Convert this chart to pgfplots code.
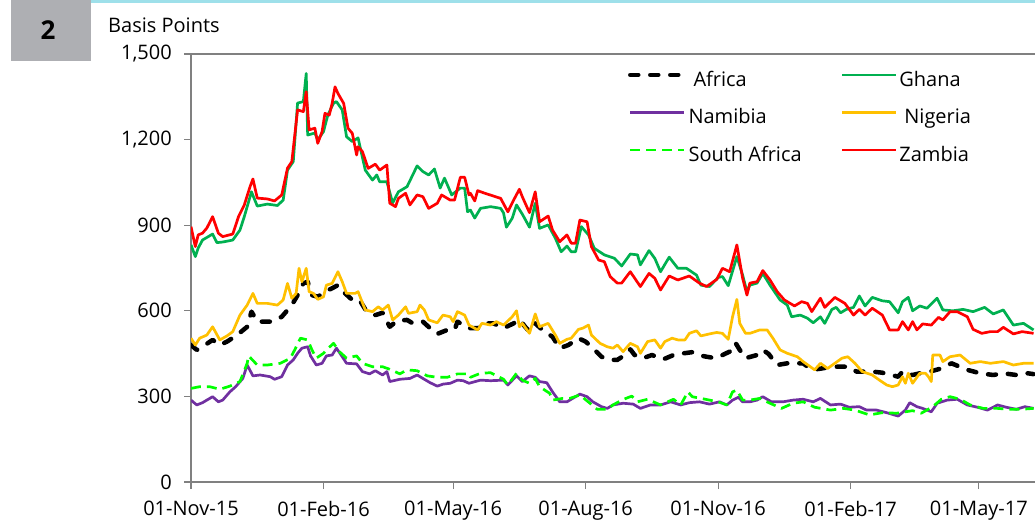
\documentclass[border=0pt]{standalone}
\usepackage{fontspec}
\setmainfont{Open Sans}
\usepackage{pgfplots}
\pgfplotsset{compat=1.18}
\definecolor{ghana}{RGB}{0,176,80}
\definecolor{namibia}{RGB}{112,48,160}
\definecolor{nigeria}{RGB}{255,192,0}
\definecolor{safrica}{RGB}{0,255,0}
\definecolor{zambia}{RGB}{255,0,0}
\definecolor{barcyan}{RGB}{158,224,234}
\definecolor{boxgrey}{RGB}{174,175,179}
\definecolor{axisgrey}{RGB}{128,128,128}
\begin{document}
\begin{tikzpicture}
  % bandeau et numero du graphique
  \fill[barcyan] (90pt,519pt) rectangle (1035pt,522pt);
  \fill[boxgrey] (11pt,461pt) rectangle (91pt,522pt);
  \node[font=\fontsize{26}{30}\selectfont\bfseries] at (48pt,492pt) {2};
  \node[anchor=base west, inner sep=0pt, font=\fontsize{20}{24}\selectfont] at (108pt,489pt) {Basis Points};
  \begin{axis}[
      at={(191pt,40pt)}, anchor=origin,
      scale only axis, width=844pt, height=428pt,
      xmin=0, xmax=586, ymin=0, ymax=1500,
      axis lines=left,
      axis line style={axisgrey, line width=1.5pt, -},
      tick style={axisgrey, line width=1.2pt},
      tick align=outside, major tick length=7pt,
      xtick={0,92,182,274,366,458,547},
      xticklabels={01-Nov-15,01-Feb-16,01-May-16,01-Aug-16,01-Nov-16,01-Feb-17,01-May-17},
      ytick={0,300,600,900,1200,1500},
      yticklabels={0,300,600,900,{1,200},{1,500}},
      tick label style={font=\fontsize{20}{24}\selectfont},
      yticklabel style={anchor=east, inner sep=0pt, xshift=-12pt},
      xticklabel style={anchor=north, inner sep=0pt, yshift=-12pt},
      clip mode=individual,
      legend columns=2,
      legend cell align=left,
      legend style={draw=none, fill=none, at={(0.514,0.962)}, anchor=north west,
        font=\fontsize{20}{24}\selectfont, row sep=18.5pt,
        nodes={inner sep=0pt, text height=14pt, text depth=5pt},
        /tikz/every odd column/.append style={column sep=2pt},
        /tikz/every even column/.append style={column sep=39pt}},
      legend image code/.code={\draw[#1] (0pt,7pt) -- (54pt,7pt);},
      every axis plot/.append style={line join=round}
    ]
    \addplot[black, line width=4.5pt, dash pattern=on 8pt off 12pt, line cap=round] coordinates {
      (0,480)(4,463)(8,474)(15,498)(20,480)(25,492)(32,515)(39,544)(42,597)(46,562)
      (56,562)(63,579)(70,620)(74,655)(78,696)(81,702)(84,655)(88,649)(93,667)(98,679)
      (102,690)(107,661)(112,638)(117,638)(122,597)(128,585)(133,593)(138,544)(143,565)(150,568)
      (154,556)(161,562)(166,539)(171,519)(178,533)(183,533)(185,562)(193,539)
      (199,539)(203,556)(210,556)(217,539)(224,556)(228,570)(232,544)(235,527)(239,556)(244,533)
      (251,509)(256,469)(262,480)(269,504)(274,492)(278,474)(285,439)(291,428)(296,428)(303,451)
      (305,465)(308,445)(314,434)(320,445)(328,430)(335,445)(342,451)(348,455)(352,445)(358,439)
      (364,434)(369,445)(374,457)(378,488)(381,463)(385,434)
      (393,445)(397,463)(401,449)(407,410)(414,416)(425,416)(431,393)(438,398)(445,404)(457,404)
      (462,387)(473,387)(480,383)(491,369)(494,387)(501,375)(506,381)(513,387)(521,398)(528,416)
      (539,393)(548,381)(557,375)(564,381)(573,375)(581,381)(585,378)
    };
    \addlegendentry{\hspace{5pt}Africa}
    \addplot[ghana, line width=2.7pt] coordinates {
      (0,831)(3,790)(5,820)(8,848)(15,869)(18,839)(22,841)(29,848)(34,883)(37,930)
      (42,1017)(46,967)(53,974)(60,969)(64,988)(67,1093)(71,1123)(74,1328)(78,1333)(80,1432)
      (81,1216)(86,1223)(88,1199)(92,1228)(95,1286)(99,1328)(101,1333)(105,1304)(108,1210)(112,1193)
      (116,1206)(121,1093)(126,1058)(129,1076)(131,1052)(136,1052)(140,978)(144,1017)(150,1035)(157,1108)
      (161,1088)(165,1076)(169,1097)(173,1030)(176,1065)(181,1006)(187,1030)(190,1030)(192,947)
      (194,953)(197,925)(201,959)(208,965)(215,959)(217,943)(219,893)(223,924)(226,971)(230,939)
      (235,893)(239,977)(242,889)(248,901)(253,854)(257,807)(261,827)(264,807)(267,807)(271,895)
      (276,866)(280,819)(287,796)(294,784)(299,757)(305,799)(310,796)(312,761)(318,811)(322,784)
      (326,737)(332,788)(338,749)(344,749)(351,725)(354,690)(360,685)(366,717)(369,720)(373,688)
      (379,790)(383,725)(386,667)
      (388,690)(393,697)(397,731)(402,690)(409,638)(414,620)(417,579)(423,585)(428,574)(432,558)
      (437,579)(440,556)(445,605)(448,612)(451,593)(455,605)(460,612)(464,652)(468,617)(473,647)
      (480,635)(485,632)(491,593)(494,632)(498,647)(501,600)(506,617)(511,609)(518,644)(522,603)
      (529,600)(536,605)(543,597)(551,612)(557,589)(564,603)(571,550)(578,556)(585,533)
    };
    \addlegendentry{Ghana}
    \addplot[namibia, line width=2.7pt] coordinates {
      (0,287)(4,270)(8,278)(15,299)(19,281)(22,287)(27,316)(31,334)(36,363)(39,410)
      (43,372)(48,375)(55,369)(58,360)(63,369)(67,410)(71,428)(74,451)(77,469)(81,474)
      (83,442)(87,410)(91,416)(94,442)(98,445)(101,469)(105,439)(108,416)(115,414)(119,387)
      (124,379)(128,390)(133,375)(136,387)(138,352)(145,360)(152,363)(157,375)(161,363)(166,348)
      (171,336)(175,343)(180,346)(185,357)(189,355)(193,346)
      (201,357)(208,355)(217,357)(220,340)(226,372)(230,352)(235,372)(239,367)(242,352)(247,348)
      (251,316)(256,281)(261,281)(265,293)(270,308)(275,299)(279,281)(285,264)(289,258)(293,270)
      (300,276)(307,273)(312,258)(319,270)(326,270)(333,281)(340,270)(346,278)(353,281)(360,273)
      (367,281)(372,270)(376,287)(380,297)(383,281)(388,281)
      (393,287)(397,299)(403,281)(411,281)(418,287)(425,290)(432,281)(437,293)(444,270)(451,273)
      (457,262)(464,264)(469,252)(476,252)(483,243)(491,231)(496,252)(499,278)(504,264)(508,258)
      (514,246)(518,276)(525,287)(532,290)(539,270)(546,262)(553,252)(560,270)(566,262)(573,255)
      (579,264)(585,258)
    };
    \addlegendentry{Namibia}
    \addplot[nigeria, line width=2.7pt] coordinates {
      (0,504)(3,480)(6,504)(11,515)(15,544)(20,498)(25,512)(29,527)(34,585)(39,620)
      (43,661)(46,626)(53,626)(60,620)(64,638)(67,696)(70,644)(73,661)(75,749)(77,702)
      (80,749)(82,667)(85,661)(88,640)(92,649)(94,690)(98,696)(102,737)(105,702)(108,661)
      (114,661)(116,667)(121,603)(126,597)(130,614)(133,603)(137,620)(140,568)(144,585)(149,614)
      (151,591)(157,597)(159,620)(162,603)(165,568)(171,558)(175,585)(180,579)(182,562)(185,597)
      (190,585)(193,550)
      (199,533)(202,556)(208,550)(212,562)(217,550)(223,579)(226,600)(228,544)(230,556)(235,521)
      (239,589)(242,544)(248,556)(253,515)(256,486)(261,500)(264,504)(269,535)(272,539)(276,550)
      (278,515)(284,486)(289,474)(293,469)(296,480)(300,457)(305,486)(310,474)(312,451)(317,492)
      (322,498)(326,469)(329,492)(334,504)(338,498)(343,498)(346,521)(351,530)(354,512)(360,519)
      (365,524)(369,521)(373,500)(376,579)(379,640)(381,556)(385,521)(388,521)
      (395,533)(400,533)(404,504)(409,463)(414,451)(421,439)(425,422)(430,404)(433,393)(437,416)
      (442,398)(447,416)(452,434)(456,439)(461,416)(466,387)(473,375)(478,357)(483,340)(487,334)
      (491,340)(494,369)(496,346)(498,381)(501,346)(506,381)(510,381)(512,369)(514,352)(515,445)
      (520,445)(522,422)(527,439)(534,445)(541,416)(548,422)(555,416)(564,422)(571,410)(578,416)
      (585,416)
    };
    \addlegendentry{\hspace{5pt}Nigeria}
    \addplot[safrica, line width=2.7pt, dash pattern=on 10pt off 6pt] coordinates {
      (0,328)(6,334)(13,334)(20,325)(27,336)(34,352)(39,416)(40,442)(46,410)(53,410)
      (62,416)(69,434)(72,463)(76,504)(81,498)(84,463)(87,434)(92,451)(94,463)(99,486)
      (103,457)(108,434)(115,442)(119,416)(126,404)(133,404)(138,395)(145,379)(150,393)(157,390)
      (164,372)(171,367)(178,367)(185,379)(193,379)
      (194,367)(201,381)(208,383)(217,360)(220,340)(226,381)(230,357)(235,346)(239,363)(242,334)
      (249,311)(251,287)(258,293)(263,293)(270,305)(277,276)(282,255)(289,255)(293,270)(299,287)
      (306,301)(310,281)(317,290)(326,270)(335,290)(340,270)(345,316)(348,299)(354,293)(360,287)
      (366,281)(372,270)(376,316)(379,322)(383,287)(388,287)
      (395,293)(402,276)(410,258)(418,276)(425,281)(433,262)(444,252)(453,258)(461,252)(471,235)
      (480,243)(490,241)(496,246)(501,250)(507,241)(515,264)(521,290)(527,299)(534,290)(541,270)
      (550,258)(560,258)(567,255)(577,255)(585,258)
    };
    \addlegendentry{South Africa}
    \addplot[zambia, line width=2.7pt] coordinates {
      (0,895)(3,825)(5,866)(8,872)(11,890)(15,930)(19,872)(22,860)(29,869)(33,930)
      (37,971)(41,1035)(43,1062)(46,995)(53,992)(58,985)(63,1006)(67,1100)(70,1123)(74,1304)
      (78,1298)(80,1368)(82,1234)(86,1240)(88,1187)(91,1228)(93,1292)(96,1286)(98,1327)(100,1385)
      (102,1362)(106,1327)(109,1240)(112,1222)(115,1146)(116,1175)(119,1158)(123,1099)(128,1114)(131,1093)
      (136,1111)(138,977)(142,965)(144,994)(149,1012)(152,971)(157,1006)(161,1000)(165,959)(171,977)
      (174,1006)(180,988)(183,988)(187,1068)(190,1068)(193,1006)
      (194,1012)(197,985)(199,1021)(204,1012)(215,994)(220,947)(224,988)(228,1026)(230,1000)(235,944)
      (239,1017)(242,912)(248,932)(251,883)(256,842)(261,866)(264,837)(267,837)(270,918)(275,912)
      (278,825)(283,778)(287,772)(291,720)(296,697)(299,697)(305,737)(312,685)(318,731)(322,714)
      (326,673)(332,722)(338,708)(346,722)(353,697)(358,685)(365,710)(369,749)(374,737)(379,831)
      (383,714)(386,655)
      (388,697)(393,702)(397,741)(402,708)(407,667)(412,638)(419,617)(424,632)(428,626)(431,597)
      (437,644)(440,612)(447,647)(454,626)(460,585)(464,605)(468,585)(473,609)(480,585)(485,533)
      (491,533)(494,562)(498,533)(501,562)(504,533)(508,554)(514,550)(519,577)(522,568)(527,597)
      (532,597)(539,579)(543,535)(549,521)(555,527)(560,527)(564,542)(571,519)(577,527)(585,521)
    };
    \addlegendentry{Zambia}
    \draw[axisgrey, line width=1.5pt] (rel axis cs:0,1) -- (rel axis cs:1,1);
  \end{axis}
  \pgfresetboundingbox
  \useasboundingbox (0pt,0pt) rectangle (1035pt,522pt);
\end{tikzpicture}
\end{document}
